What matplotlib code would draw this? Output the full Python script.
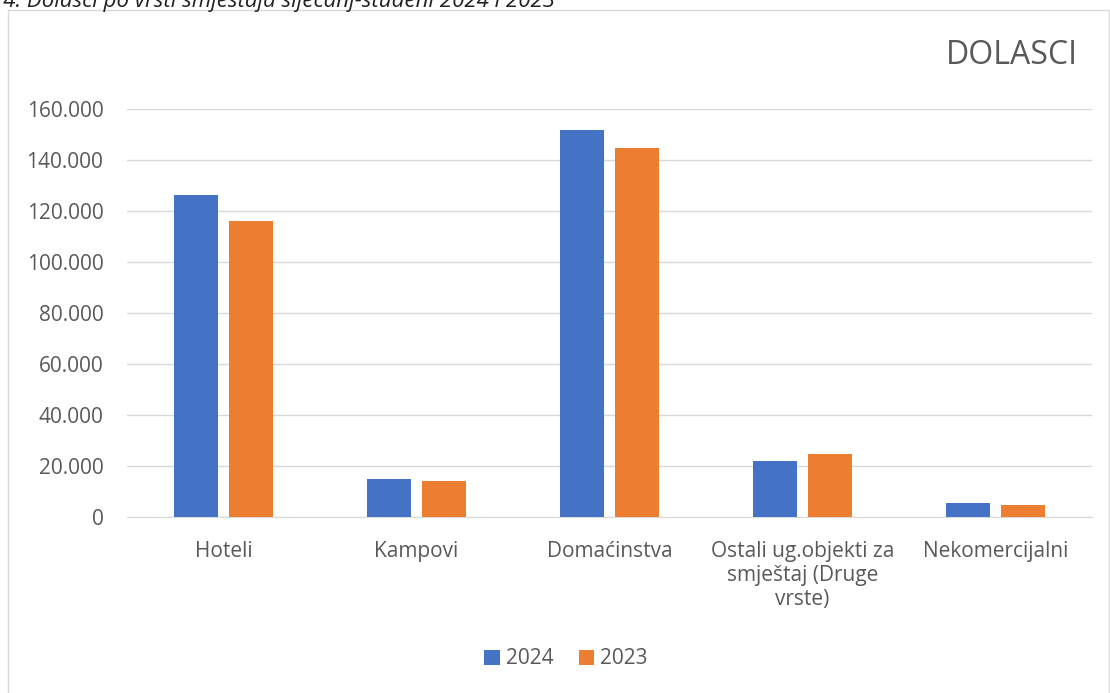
import matplotlib.pyplot as plt
import numpy as np
from matplotlib.patches import Rectangle
from matplotlib.ticker import FuncFormatter

plt.rcParams['font.family'] = ['Open Sans', 'DejaVu Sans']

categories = ["Hoteli", "Kampovi", "Domaćinstva",
              "Ostali ug.objekti za\nsmještaj (Druge\nvrste)", "Nekomercijalni"]
dolasci_2024 = [126200, 14900, 151800, 21800, 5400]
dolasci_2023 = [115900, 14100, 144700, 24600, 4700]
yticks = [0, 20000, 40000, 60000, 80000, 100000, 120000, 140000, 160000]

W, H = 1110, 693
fig = plt.figure(figsize=(W / 100, H / 100), dpi=100)

# chart frame (light grey border, bottom runs off the page)
fig.patches.append(Rectangle((8 / W, -0.05), (1109 - 8) / W, 1.05 - 10 / H,
                             transform=fig.transFigure, fill=False,
                             edgecolor="#d9d9d9", linewidth=1))

# caption above the frame, clipped at the top edge like in the source
fig.text(555 / W, 1 - 7 / H, "Graf 4. Dolasci po vrsti smještaja siječanj-studeni 2024 i 2023",
         ha="right", va="baseline", fontsize=16, style="italic", color="#222222")

ax = fig.add_axes([127 / W, 1 - 517 / H, (1092 - 127) / W, (517 - 109) / H])

x = np.arange(len(categories))
bw = 0.223
off = 0.1425
ax.bar(x - off, dolasci_2024, bw, color="#4472c4", label="2024", zorder=3)
ax.bar(x + off, dolasci_2023, bw, color="#ed7d31", label="2023", zorder=3)

ax.set_xlim(-0.5, len(categories) - 0.5)
ax.set_ylim(0, 160000)
ax.set_yticks(yticks)
ax.yaxis.set_major_formatter(FuncFormatter(lambda v, p: f"{int(v):,}".replace(",", ".")))
ax.grid(axis="y", color="#d9d9d9", linewidth=1, zorder=0)
ax.set_xticks(x)
ax.set_xticklabels(categories, fontsize=15, color="#595959", linespacing=1.2)
ax.tick_params(axis="y", labelsize=15, labelcolor="#595959", length=0, pad=17)
ax.tick_params(axis="x", length=0, pad=17)
for s in ["top", "right", "left"]:
    ax.spines[s].set_visible(False)
ax.spines["bottom"].set_color("#d9d9d9")

fig.text(1078 / W, 1 - 56 / H, "DOLASCI", ha="right", va="center",
         fontsize=23, color="#595959")

fig.legend(loc="center", bbox_to_anchor=(566 / W, 1 - 659 / H), ncol=2, frameon=False,
           fontsize=15, labelcolor="#595959", handlelength=0.75, handleheight=0.75,
           handletextpad=0.3, columnspacing=1.2)

fig.savefig("out.png", dpi=100)
